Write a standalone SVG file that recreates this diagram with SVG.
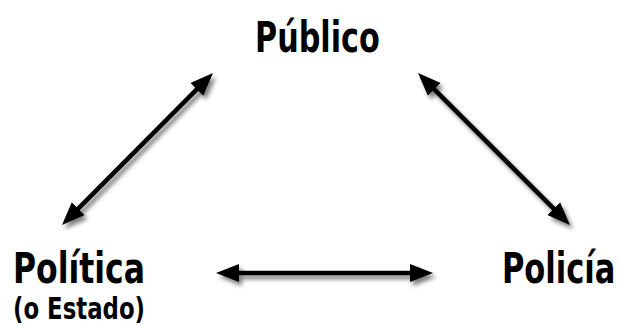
<svg xmlns="http://www.w3.org/2000/svg" width="622" height="326" viewBox="0 0 622 326">
<defs>
<style>
.lbl{font-family:"Liberation Sans Narrow","DejaVu Sans Condensed","Liberation Sans",sans-serif;font-weight:bold;fill:#000;font-stretch:condensed}
.big{font-size:42px}
.small{font-size:30px}
.shaft{stroke:#000;stroke-width:4.5;fill:none;marker-start:url(#head);marker-end:url(#head)}
</style>
<filter id="sh" x="-20%" y="-20%" width="140%" height="140%">
<feDropShadow dx="3" dy="4" stdDeviation="2.2" flood-color="#000" flood-opacity="0.5"/>
</filter>
<marker id="head" markerUnits="userSpaceOnUse" markerWidth="24" markerHeight="20" refX="1" refY="9" orient="auto-start-reverse" viewBox="0 0 24 18">
<path d="M0,0 L23,9 L0,18 Z" fill="#000"/>
</marker>
</defs>
<rect width="622" height="326" fill="#fff"/>
<g id="connectors" filter="url(#sh)">
<path class="shaft" d="M238,273 L411,273"/>
<path class="shaft" d="M77.5,209.4 L197.5,88.6"/>
<path class="shaft" d="M433.6,88.6 L554.4,209.4"/>
</g>
<g id="publico"><text class="lbl big" transform="translate(255,52) scale(0.81,1)" x="0" y="0" textLength="154" lengthAdjust="spacingAndGlyphs">Público</text></g>
<g id="politica"><text class="lbl big" transform="translate(13,283) scale(0.81,1)" x="0" y="0" textLength="163" lengthAdjust="spacingAndGlyphs">Política</text>
<text class="lbl small" transform="translate(13,319) scale(0.81,1)" x="0" y="0" textLength="163" lengthAdjust="spacingAndGlyphs">(o Estado)</text></g>
<g id="policia"><text class="lbl big" transform="translate(502,283) scale(0.81,1)" x="0" y="0" textLength="140" lengthAdjust="spacingAndGlyphs">Policía</text></g>
</svg>
